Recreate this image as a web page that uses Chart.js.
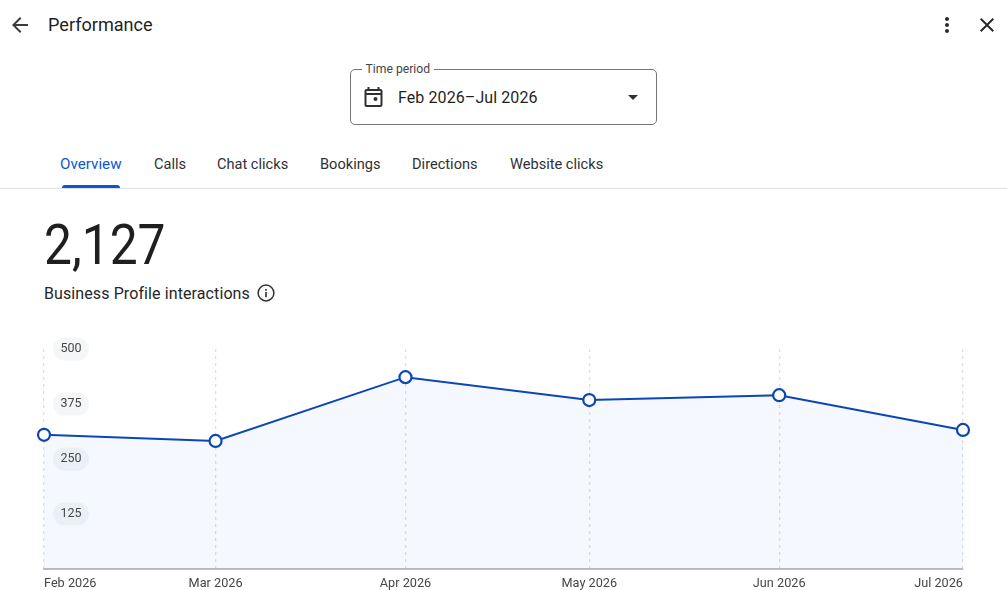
<!DOCTYPE html>
<html><head><meta charset="utf-8">
<script src="https://cdn.jsdelivr.net/npm/chart.js@4"></script>
<style>
html,body{margin:0;padding:0;background:#fff;width:1007px;height:590px;overflow:hidden;font-family:Roboto,sans-serif;color:#1f1f1f}
.a{position:absolute;white-space:nowrap;line-height:1}
canvas{position:absolute;left:0;top:0}
svg{position:absolute}
.tab{top:157px;font-size:14.6px;color:#303134}
</style></head><body>
<svg style="left:8px;top:13px" width="24" height="24" viewBox="0 0 24 24"><path fill="#3c3c3c" d="M20 11H7.83l5.59-5.59L12 4l-8 8 8 8 1.41-1.41L7.83 13H20z"/></svg>
<div class="a" style="left:48px;top:16px;font-size:18.1px">Performance</div>
<svg style="left:935px;top:13px" width="24" height="24" viewBox="0 0 24 24"><path fill="#2a2a2a" d="M12 8c1.1 0 2-.9 2-2s-.9-2-2-2-2 .9-2 2 .9 2 2 2zm0 2c-1.1 0-2 .9-2 2s.9 2 2 2 2-.9 2-2-.9-2-2-2zm0 6c-1.1 0-2 .9-2 2s.9 2 2 2 2-.9 2-2-.9-2-2-2z"/></svg>
<svg style="left:975px;top:13px" width="24" height="24" viewBox="0 0 24 24"><path fill="#2a2a2a" d="M19 6.41 17.59 5 12 10.59 6.41 5 5 6.41 10.59 12 5 17.59 6.41 19 12 13.41 17.59 19 19 17.59 13.41 12z"/></svg>

<div class="a" style="left:349.5px;top:69px;width:305.500px;height:53.500px;border:1.2px solid #747775;border-radius:5px"></div>
<div class="a" style="left:361.500px;top:62px;background:#fff;padding:0 4px;font-size:12.2px;line-height:14px;color:#444746">Time period</div>
<svg style="left:363px;top:85px" width="24" height="24" viewBox="0 0 24 24"><path fill="#303030" d="M19 4h-1V2h-2v2H8V2H6v2H5c-1.1 0-2 .9-2 2v14c0 1.1.9 2 2 2h14c1.1 0 2-.9 2-2V6c0-1.100-.9-2-2-2zm0 16H5V10h14v10zm0-12H5V6h14v2zm-5 8a2 2 0 1 0 0-4 2 2 0 0 0 0 4z" transform="translate(-1.500 0)"/></svg>
<div class="a" style="left:398px;top:90px;font-size:16px;letter-spacing:.09px">Feb 2026–Jul 2026</div>
<svg style="left:621px;top:85px" width="24" height="24" viewBox="0 0 24 24"><path fill="#303030" d="M7 10l5 5 5-5z"/></svg>

<div class="a tab" style="left:60px;color:#0b57d0;font-size:15.2px">Overview</div>
<div class="a tab" style="left:154px">Calls</div>
<div class="a tab" style="left:217px">Chat clicks</div>
<div class="a tab" style="left:320px">Bookings</div>
<div class="a tab" style="left:412px">Directions</div>
<div class="a tab" style="left:510px">Website clicks</div>
<div class="a" style="left:0;top:188px;width:1007px;height:1px;background:#e0e0e0"></div>
<div class="a" style="left:62px;top:185px;width:58px;height:3px;background:#0b57d0;border-radius:3px 3px 0 0"></div>

<div class="a" style="left:44px;top:218px;font-size:55px;transform:scaleX(.904);transform-origin:left top">2,127</div>
<div class="a" style="left:44px;top:286px;font-size:16px;letter-spacing:.1px;color:#262626">Business Profile interactions</div>
<svg style="left:255px;top:282px" width="22" height="22" viewBox="0 0 22 22"><circle cx="11" cy="11" r="7.9" fill="none" stroke="#303030" stroke-width="1.5"/><rect x="10.200" y="10" width="1.600" height="5.200" fill="#303030"/><rect x="10.200" y="7" width="1.600" height="1.700" fill="#303030"/></svg>

<canvas id="c" width="1007" height="590" style="width:1007px;height:590px"></canvas>
<script>
const monthLabels = ["Feb 2026","Mar 2026","Apr 2026","May 2026","Jun 2026","Jul 2026"];
const dayOffsets = [0,28,59,89,120,150];
const interactions = [305,291,436,384,395,316];
const yTicks = [0,125,250,375,500];

const pillPlugin = {
  id:'pills',
  beforeDraw(chart){
    const {ctx,scales:{y}}=chart;
    ctx.save();
    ctx.fillStyle='#f5f6f8';
    yTicks.filter(v=>v>0).forEach(v=>{
      const py=y.getPixelForValue(v);
      ctx.beginPath();
      ctx.roundRect(y.left+53-44,py-11.5,36,23,11.5);
      ctx.fill();
    });
    ctx.restore();
  }
};

new Chart(document.getElementById('c'),{
  type:'line',
  data:{datasets:[{
    data:interactions.map((v,i)=>({x:dayOffsets[i],y:v})),
    borderColor:'#0b46b5',borderWidth:2,tension:0,
    fill:'origin',backgroundColor:'rgba(55,115,235,0.05)',
    pointRadius:6,pointBorderWidth:2.2,pointBackgroundColor:'#fff',pointBorderColor:'#0b46b5',
    clip:false
  }]},
  options:{
    responsive:false,animation:false,devicePixelRatio:1,
    layout:{padding:{left:44,right:44,top:349,bottom:0}},
    plugins:{legend:{display:false},tooltip:{enabled:false}},
    scales:{
      x:{
        type:'linear',min:0,max:150,
        afterBuildTicks(s){s.ticks=dayOffsets.map(v=>({value:v}));},
        afterFit(s){s.height=21;s.paddingLeft=0;s.paddingRight=0;},
        border:{display:true,color:'#bdbdbd',width:2,dash:[3,4]},
        grid:{color:'#dedede',lineWidth:1.3,drawTicks:false},
        ticks:{
          autoSkip:false,maxRotation:0,align:'inner',padding:7,
          color:'#444746',font:{family:'Roboto',size:12.7},
          callback(v){return monthLabels[dayOffsets.indexOf(v)];}
        }
      },
      y:{
        min:0,max:500,
        afterBuildTicks(s){s.ticks=yTicks.map(v=>({value:v}));},
        afterFit(s){s.width=0;s.paddingTop=0;s.paddingBottom=0;},
        border:{display:false},
        grid:{display:false,drawTicks:false},
        ticks:{
          mirror:true,padding:16.500,color:'#444746',font:{family:'Roboto',size:12.5},
          callback(v){return v===0?'':String(v);}
        }
      }
    }
  },
  plugins:[pillPlugin]
});
</script>
</body></html>
